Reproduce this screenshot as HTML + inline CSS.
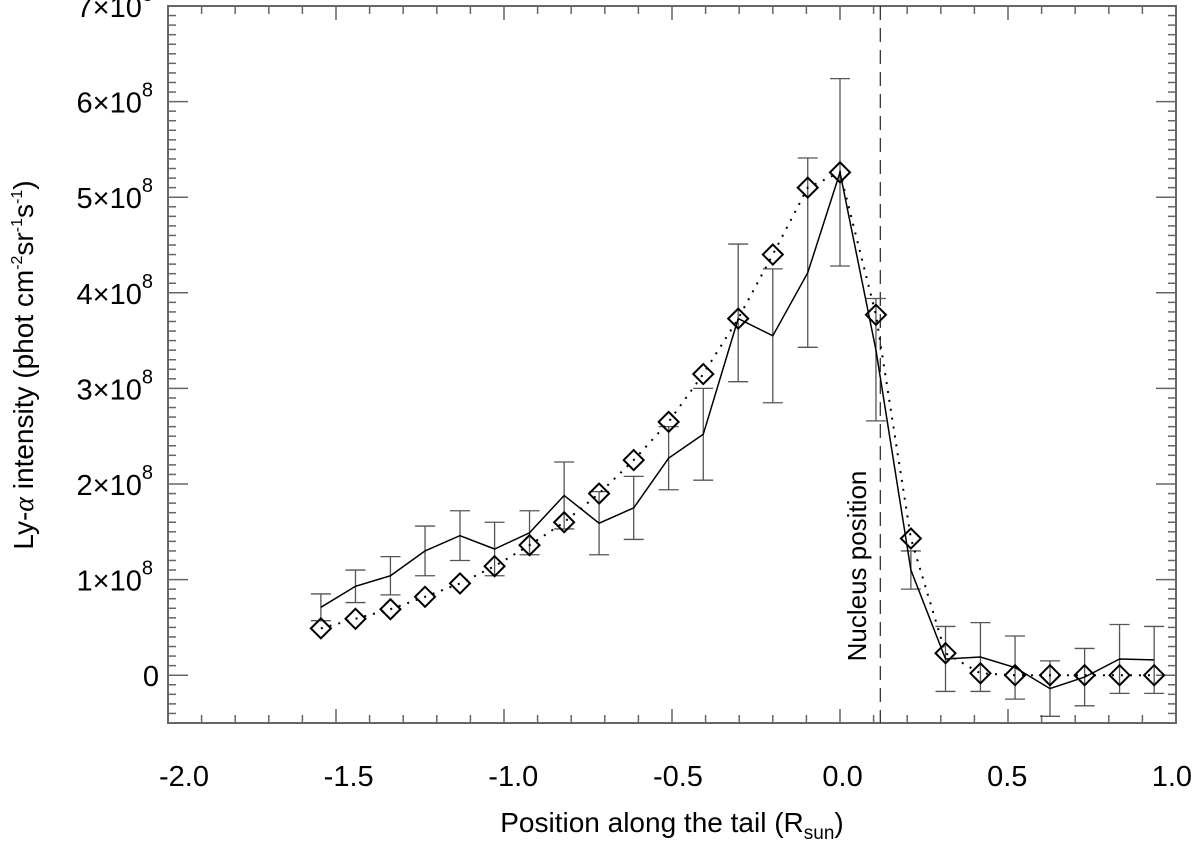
<!DOCTYPE html>
<html><head><meta charset="utf-8"><style>
body{margin:0;background:#fff}
svg text{font-family:"Liberation Sans",sans-serif;fill:#000}
</style></head><body>
<svg id="chart" width="1200" height="845" xmlns="http://www.w3.org/2000/svg">
<g id="axes"></g>
<g id="marks"></g>
<text x="672" y="832" font-size="28" text-anchor="middle">Position along the tail (R<tspan font-size="19" dy="7">sun</tspan><tspan dy="-7">)</tspan></text>
<text transform="translate(33,365) rotate(-90)" font-size="28" text-anchor="middle">Ly-<tspan font-family="Liberation Serif" font-style="italic">α</tspan> intensity (phot cm<tspan font-size="16" dy="-11">-2</tspan><tspan dy="11">sr</tspan><tspan font-size="16" dy="-11">-1</tspan><tspan dy="11">s</tspan><tspan font-size="16" dy="-11">-1</tspan><tspan dy="11">)</tspan></text>
<text transform="translate(866,566) rotate(-90)" font-size="26" text-anchor="middle">Nucleus position</text>
</svg>
<script>
const xPositions=[-1.545,-1.442,-1.338,-1.235,-1.131,-1.028,-0.924,-0.821,-0.717,-0.614,-0.51,-0.407,-0.303,-0.2,-0.096,0.0,0.107,0.211,0.314,0.418,0.521,0.625,0.728,0.832,0.935];
const dottedValues=[0.49,0.59,0.69,0.82,0.96,1.14,1.36,1.60,1.90,2.25,2.65,3.15,3.73,4.40,5.10,5.26,3.77,1.43,0.23,0.02,0,0,0,0,0];
const solidValues=[0.71,0.93,1.04,1.30,1.46,1.32,1.49,1.88,1.59,1.75,2.27,2.52,3.73,3.55,4.21,5.26,3.40,1.10,0.17,0.19,0.08,-0.14,-0.02,0.17,0.16];
const errorCenters=[0.71,0.93,1.04,1.30,1.46,1.32,1.49,1.88,1.59,1.75,2.27,2.52,3.79,3.55,4.42,5.26,3.30,1.10,0.17,0.19,0.08,-0.14,-0.02,0.17,0.16];
const solidErrors=[0.14,0.17,0.2,0.26,0.26,0.28,0.23,0.35,0.33,0.33,0.33,0.48,0.72,0.70,0.99,0.98,0.64,0.2,0.34,0.36,0.33,0.29,0.30,0.36,0.35];
const xTicks=[-2.0,-1.5,-1.0,-0.5,0.0,0.5,1.0];
const xTickLabels=["-2.0","-1.5","-1.0","-0.5","0.0","0.5","1.0"];
const yTicks=[0,1,2,3,4,5,6,7];
const yTickLabels=["0","1×10","2×10","3×10","4×10","5×10","6×10","7×10"];
const nucleusX=0.12;

const L=168,R=1176,T=6,B=723,X0=-2,X1=1,Y0=-0.5,Y1=7;
const sx=v=>L+(v-X0)/(X1-X0)*(R-L);
const sy=v=>B-(v-Y0)/(Y1-Y0)*(B-T);
const NS="http://www.w3.org/2000/svg";
function mk(parent,tag,attrs){const e=document.createElementNS(NS,tag);for(const k in attrs)e.setAttribute(k,attrs[k]);parent.appendChild(e);return e;}
const axes=document.getElementById('axes'),marks=document.getElementById('marks');
const ac="#666";
const frame=mk(axes,'rect',{x:L,y:T,width:R-L,height:B-T,fill:'none',stroke:ac,'stroke-width':2});


for(let v=-2;v<=1.0001;v+=0.1){
  const major=Math.abs(v*2-Math.round(v*2))<1e-6;const len=major?14:8;const x=sx(v);
  mk(axes,'line',{x1:x,x2:x,y1:B,y2:B-len,stroke:ac,'stroke-width':1.5});
  mk(axes,'line',{x1:x,x2:x,y1:T,y2:T+len,stroke:ac,'stroke-width':1.5});
}
for(let v=-0.5;v<=7.0001;v+=0.1){
  const major=Math.abs(v-Math.round(v))<1e-6;const len=major?20:8;const y=sy(v);
  mk(axes,'line',{x1:L,x2:L+len,y1:y,y2:y,stroke:ac,'stroke-width':1.5});
  mk(axes,'line',{x1:R,x2:R-len,y1:y,y2:y,stroke:ac,'stroke-width':1.5});
}
xTicks.forEach((v,i)=>{
  const t=mk(axes,'text',{x:184+(v+2)*329.3,y:786,'font-size':29,'text-anchor':'middle'});
  t.textContent=xTickLabels[i];
  
  
});
yTicks.forEach((v,i)=>{
  const t=mk(axes,'text',{x:v===0?159:153,y:sy(v)+11,'font-size':29,'text-anchor':'end'});
  t.textContent=yTickLabels[i];
  if(v!==0){const s=document.createElementNS(NS,'tspan');s.setAttribute('font-size','20');s.setAttribute('dy','-16');s.textContent='8';t.appendChild(s);}
  
  
});
const nl=mk(marks,'line',{x1:sx(nucleusX),x2:sx(nucleusX),y1:T,y2:B,stroke:'#333','stroke-width':1.3,'stroke-dasharray':'14,8'});


xPositions.forEach((x,i)=>{
  const cx=sx(x),t=sy(errorCenters[i]+solidErrors[i]),b=sy(errorCenters[i]-solidErrors[i]);
  const g=mk(marks,'path',{d:`M${cx},${t}V${b}M${cx-10},${t}H${cx+10}M${cx-10},${b}H${cx+10}`,stroke:'#555','stroke-width':1.3,fill:'none'});
  
  
});
const sp=mk(marks,'polyline',{points:xPositions.map((x,i)=>sx(x)+','+sy(solidValues[i])).join(' '),fill:'none',stroke:'#000','stroke-width':1.5});


const dp=mk(marks,'polyline',{points:xPositions.map((x,i)=>sx(x)+','+sy(dottedValues[i])).join(' '),fill:'none',stroke:'#000','stroke-width':2,'stroke-dasharray':'2,7'});


xPositions.forEach((x,i)=>{
  const cx=sx(x),cy=sy(dottedValues[i]),r=10;
  const d=mk(marks,'path',{d:`M${cx},${cy-r}L${cx+r},${cy}L${cx},${cy+r}L${cx-r},${cy}Z`,fill:'none',stroke:'#000','stroke-width':2});
  
  
});
</script>
</body></html>
